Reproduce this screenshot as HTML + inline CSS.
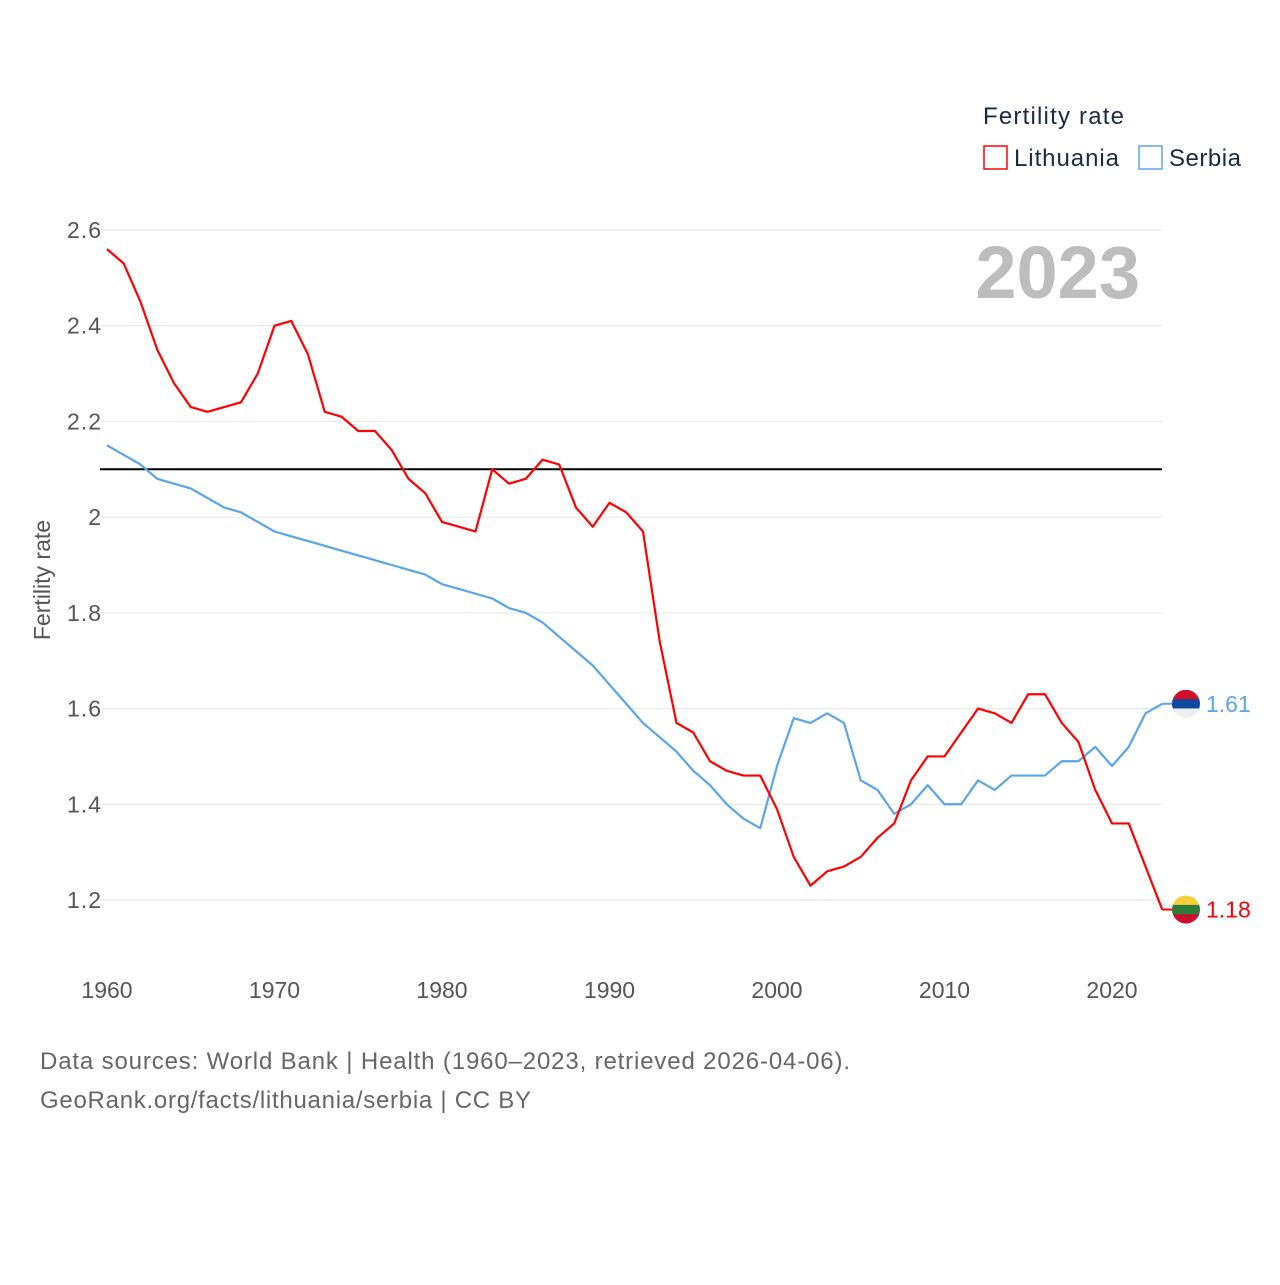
<!DOCTYPE html>
<html><head><meta charset="utf-8"><style>
body{margin:0;background:#fff;font-family:"Liberation Sans",sans-serif}
svg text{font-family:"Liberation Sans",sans-serif}
</style></head><body>
<svg id="chart" width="1280" height="1280" xmlns="http://www.w3.org/2000/svg">
<defs>
<clipPath id="c-serbia"><circle cx="1186" cy="703" r="14"/></clipPath>
<clipPath id="c-lithuania"><circle cx="1186" cy="909" r="14"/></clipPath>
</defs>
<g id="grid"></g>
<g id="yticks"></g>
<g id="xticks"></g>
<text transform="translate(50,580) rotate(-90)" text-anchor="middle" font-size="23" fill="#555">Fertility rate</text>
<text x="1140" y="298" text-anchor="end" font-size="74" font-weight="bold" fill="#bdbdbd">2023</text>
<line id="refline" stroke="#000" stroke-width="2"/>
<g id="series"></g>
<g>
<text x="983" y="124" font-size="24" fill="#1a2a44" textLength="141">Fertility rate</text>
<rect x="984" y="146" width="23" height="23" fill="none" stroke="#f00" stroke-width="1.5"/>
<text x="1014" y="166" font-size="24" fill="#1a2a44" textLength="105">Lithuania</text>
<rect x="1139" y="146" width="23" height="23" fill="none" stroke="#5aa5ea" stroke-width="1.5"/>
<text x="1169" y="166" font-size="24" fill="#1a2a44" textLength="72">Serbia</text>
</g>
<text x="40" y="1069" font-size="24" fill="#666" textLength="810">Data sources: World Bank | Health (1960–2023, retrieved 2026-04-06).</text>
<text x="40" y="1108" font-size="24" fill="#666" textLength="491">GeoRank.org/facts/lithuania/serbia | CC BY</text>
</svg>
<script>
const years=[];for(let y=1960;y<=2023;y++)years.push(y);
const lithuania=[2.56,2.53,2.45,2.35,2.28,2.23,2.22,2.23,2.24,2.30,2.40,2.41,2.34,2.22,2.21,2.18,2.18,2.14,2.08,2.05,1.99,1.98,1.97,2.10,2.07,2.08,2.12,2.11,2.02,1.98,2.03,2.01,1.97,1.74,1.57,1.55,1.49,1.47,1.46,1.46,1.39,1.29,1.23,1.26,1.27,1.29,1.33,1.36,1.45,1.50,1.50,1.55,1.60,1.59,1.57,1.63,1.63,1.57,1.53,1.43,1.36,1.36,1.27,1.18];
const serbia=[2.15,2.13,2.11,2.08,2.07,2.06,2.04,2.02,2.01,1.99,1.97,1.96,1.95,1.94,1.93,1.92,1.91,1.90,1.89,1.88,1.86,1.85,1.84,1.83,1.81,1.80,1.78,1.75,1.72,1.69,1.65,1.61,1.57,1.54,1.51,1.47,1.44,1.40,1.37,1.35,1.48,1.58,1.57,1.59,1.57,1.45,1.43,1.38,1.40,1.44,1.40,1.40,1.45,1.43,1.46,1.46,1.46,1.49,1.49,1.52,1.48,1.52,1.59,1.61];
const yTicks=[1.2,1.4,1.6,1.8,2,2.2,2.4,2.6];
const xTicks=[1960,1970,1980,1990,2000,2010,2020];
const refValue=2.1;
const NS="http://www.w3.org/2000/svg";
const xS=v=>107+(v-1960)*(1005/60);
const yS=v=>900-(v-1.2)*(670/1.4);
function mk(t,a,p){const e=document.createElementNS(NS,t);for(const k in a)e.setAttribute(k,a[k]);p.appendChild(e);return e;}
const grid=document.getElementById('grid'),yt=document.getElementById('yticks'),xt=document.getElementById('xticks');
yTicks.forEach(v=>{
 const l=mk('line',{x1:100,x2:1162,y1:yS(v),y2:yS(v),stroke:'#e6e6e6','stroke-width':1},grid);
 
 
 const t=mk('text',{x:102,y:yS(v)+8,'text-anchor':'end','font-size':23,fill:'#555','letter-spacing':1},yt);
 
 
 t.textContent=v;
});
xTicks.forEach(v=>{
 const t=mk('text',{x:xS(v),y:998,'text-anchor':'middle','font-size':23,fill:'#555'},xt);
 
 
 t.textContent=v;
});
const rl=document.getElementById('refline');
rl.setAttribute('x1',100);rl.setAttribute('x2',1162);rl.setAttribute('y1',yS(refValue));rl.setAttribute('y2',yS(refValue));
const sg=document.getElementById('series');
function series(vals,color,name,stripes){
 const p=mk('polyline',{points:vals.map((v,i)=>xS(years[i])+','+yS(v)).join(' '),fill:'none',stroke:color,'stroke-width':2.2,'stroke-linejoin':'round'},sg);
 
 
 const last=vals[vals.length-1],lx=xS(years[years.length-1]),ly=yS(last);
 mk('line',{x1:lx,x2:lx+12,y1:ly,y2:ly,stroke:color,'stroke-width':2},sg);
 const cp=document.getElementById('c-'+name).firstElementChild;
 cp.setAttribute('cy',ly);
 const g=mk('g',{'clip-path':'url(#c-'+name+')'},sg);
 
 
 stripes.forEach((c,i)=>mk('rect',{x:1172,y:ly-14+i*28/3,width:28,height:28/3+0.5,fill:c},g));
 const t=mk('text',{x:1206,y:ly+8,'font-size':23,fill:color},sg);
 
 
 t.textContent=last.toFixed(2);
}
series(serbia,'#5aa5ea','serbia',['#d0102a','#1048a0','#eeeeee']);
series(lithuania,'#f00','lithuania',['#f5cf3a','#2e7d3a','#c8102e']);
</script>
</body></html>
